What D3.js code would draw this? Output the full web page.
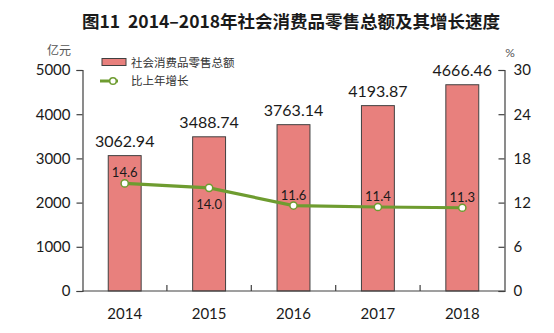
<!DOCTYPE html>
<html>
<head>
<meta charset="utf-8">
<script src="https://cdn.jsdelivr.net/npm/d3@7/dist/d3.min.js"></script>
<style>
  html, body { margin: 0; padding: 0; background: #fff; }
  svg { display: block; }
  text { font-family: Lato, "Noto Sans CJK SC", sans-serif; fill: #1a1a1a; }
  .cjk { font-family: "Noto Sans CJK SC", sans-serif; }
</style>
</head>
<body>
<svg id="chart" width="554" height="333"></svg>
<script>
// Retail sales of consumer goods, 2014–2018
const years = ["2014", "2015", "2016", "2017", "2018"];
const salesValues = [3062.94, 3488.74, 3763.14, 4193.87, 4666.46];   // 亿元
const growthRates = [14.6, 14.0, 11.6, 11.4, 11.3];                  // %
const leftTicks = [0, 1000, 2000, 3000, 4000, 5000];
const rightTicks = [0, 6, 12, 18, 24, 30];
const growthLabelBelow = [false, true, false, false, false];

const svg = d3.select("#chart");
const plotLeft = 82.5, plotRight = 504.5, plotTop = 70, plotBottom = 291;

const x = d3.scaleBand().domain(years).range([plotLeft, plotRight]).paddingInner(0.61).paddingOuter(0.305);
const yL = d3.scaleLinear().domain([0, 5000]).range([plotBottom, plotTop]);
const yR = d3.scaleLinear().domain([0, 30]).range([plotBottom, plotTop]);

const axisColor = "#404040";
const barFill = "#E8807D";
const lineColor = "#6E9C30";

// Title
svg.append("text").attr("class", "cjk")
  .attr("x", 291).attr("y", 28).attr("text-anchor", "middle")
  .attr("font-size", 17.5).attr("font-weight", "bold")
  .style("white-space", "pre")
  .text("图11  2014–2018年社会消费品零售总额及其增长速度");

// Units
svg.append("text").attr("class", "cjk").attr("x", 59).attr("y", 55)
  .attr("text-anchor", "middle").attr("font-size", 12).style("fill", "#555").text("亿元");
svg.append("text").attr("x", 510).attr("y", 57)
  .attr("text-anchor", "middle").attr("font-size", 12).style("fill", "#555").text("%");

// Bars
svg.append("g").selectAll("rect").data(salesValues).join("rect")
  .attr("x", (d, i) => x(years[i]))
  .attr("y", d => yL(d))
  .attr("width", x.bandwidth())
  .attr("height", d => plotBottom - yL(d))
  .attr("fill", barFill)
  .attr("stroke", axisColor).attr("stroke-width", 1);

// Bar value labels
svg.append("g").selectAll("text").data(salesValues).join("text")
  .attr("x", (d, i) => x(years[i]) + x.bandwidth() / 2)
  .attr("y", d => yL(d) - 9)
  .attr("text-anchor", "middle").attr("font-size", 16)
  .text(d => d.toFixed(2));

// Left axis
const gL = svg.append("g").attr("transform", `translate(${plotLeft},0)`)
  .call(d3.axisLeft(yL).tickValues(leftTicks).tickSize(6).tickPadding(6).tickFormat(d3.format("d")));
// Right axis (ticks pointing inward)
const gR = svg.append("g").attr("transform", `translate(${plotRight},0)`)
  .call(d3.axisRight(yR).tickValues(rightTicks).tickSizeInner(-6).tickSizeOuter(-6).tickPadding(9).tickFormat(d3.format("d")));
[gL, gR].forEach(g => {
  g.selectAll("path,line").attr("stroke", axisColor).attr("stroke-width", 1.2);
  g.selectAll("text").attr("font-size", 15).attr("font-family", "Lato, sans-serif").style("fill", "#1a1a1a");
});
gR.selectAll(".tick text").attr("x", 9);

// Bottom axis: baseline, inward ticks at category boundaries, year labels
const gB = svg.append("g");
gB.append("line").attr("x1", plotLeft).attr("x2", plotRight).attr("y1", plotBottom).attr("y2", plotBottom)
  .attr("stroke", axisColor).attr("stroke-width", 1.2);
gB.selectAll("line.sep").data(years.slice(1)).join("line").attr("class", "sep")
  .attr("x1", d => x(d) - x.step() * x.paddingInner() / 2)
  .attr("x2", d => x(d) - x.step() * x.paddingInner() / 2)
  .attr("y1", plotBottom).attr("y2", plotBottom - 6)
  .attr("stroke", axisColor).attr("stroke-width", 1.2);
gB.selectAll("text").data(years).join("text")
  .attr("x", d => x(d) + x.bandwidth() / 2).attr("y", 319)
  .attr("text-anchor", "middle").attr("font-size", 15).text(d => d);

// Growth line
const cx = i => x(years[i]) + x.bandwidth() / 2;
svg.append("path").datum(growthRates)
  .attr("d", d3.line().x((d, i) => cx(i)).y(d => yR(d)))
  .attr("fill", "none").attr("stroke", lineColor).attr("stroke-width", 3.2);
svg.append("g").selectAll("circle").data(growthRates).join("circle")
  .attr("cx", (d, i) => cx(i)).attr("cy", d => yR(d)).attr("r", 3.6)
  .attr("fill", "#fff").attr("stroke", lineColor).attr("stroke-width", 1.5);
svg.append("g").selectAll("text").data(growthRates).join("text")
  .attr("x", (d, i) => cx(i))
  .attr("y", (d, i) => growthLabelBelow[i] ? yR(d) + 21 : yR(d) - 6)
  .attr("text-anchor", "middle").attr("font-size", 13)
  .text(d => d.toFixed(1));

// Legend
const lg = svg.append("g");
lg.append("rect").attr("x", 102).attr("y", 58.5).attr("width", 24).attr("height", 7)
  .attr("fill", barFill).attr("stroke", axisColor).attr("stroke-width", 1);
lg.append("text").attr("class", "cjk").attr("x", 131).attr("y", 67).attr("font-size", 11.5).style("fill", "#333").text("社会消费品零售总额");
lg.append("line").attr("x1", 100).attr("x2", 118).attr("y1", 81).attr("y2", 81)
  .attr("stroke", lineColor).attr("stroke-width", 3);
lg.append("circle").attr("cx", 113).attr("cy", 81).attr("r", 3.3)
  .attr("fill", "#fff").attr("stroke", lineColor).attr("stroke-width", 1.5);
lg.append("text").attr("class", "cjk").attr("x", 131).attr("y", 85).attr("font-size", 11.5).style("fill", "#333").text("比上年增长");
</script>
</body>
</html>
